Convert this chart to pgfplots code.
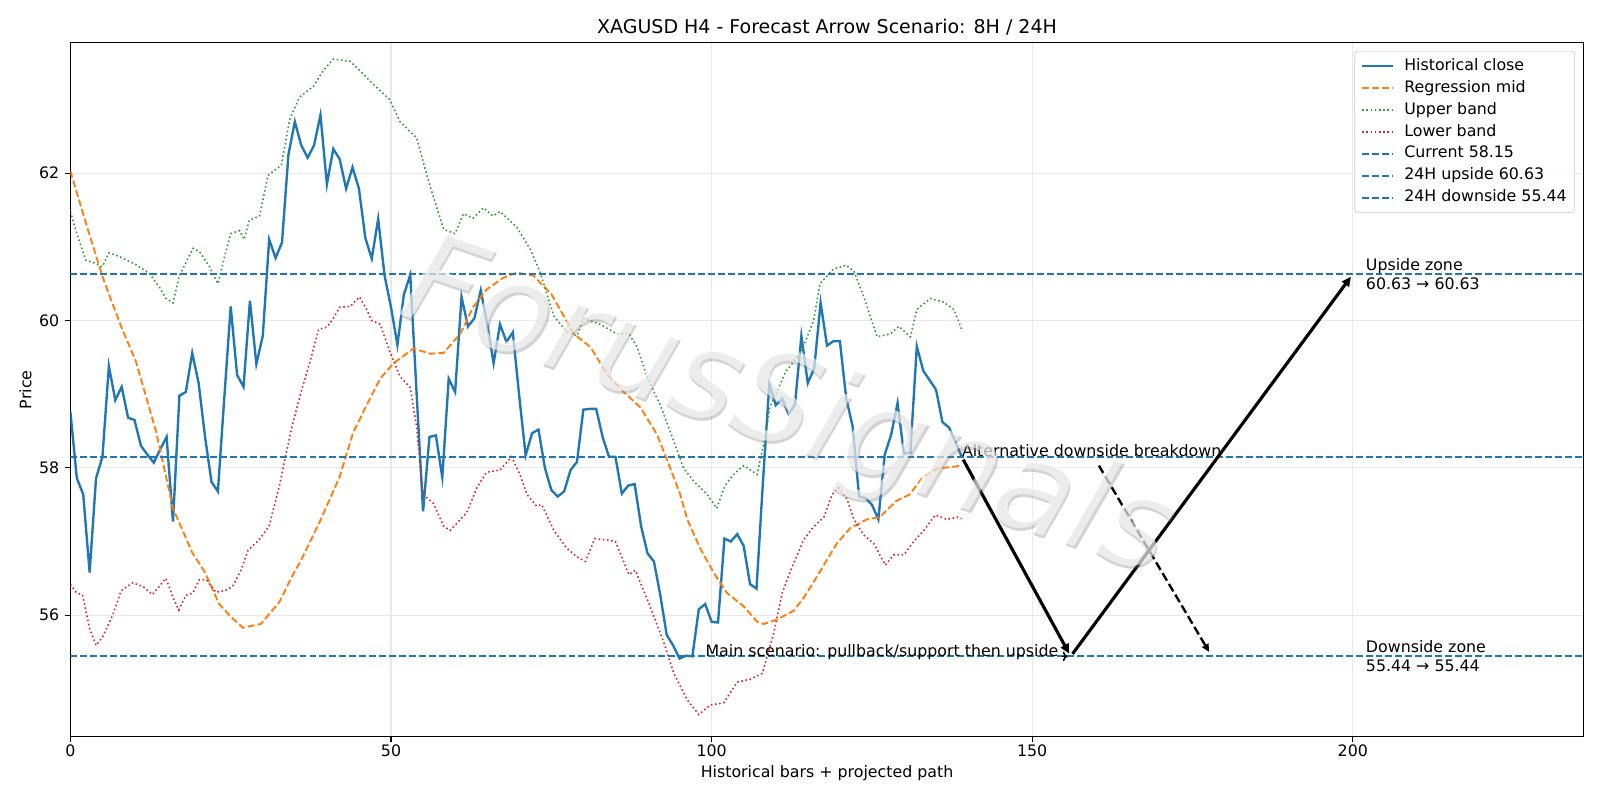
\documentclass[border=0pt]{standalone}
\usepackage{fontspec}
\setmainfont{DejaVu Sans}
\usepackage{pgfplots}
\pgfplotsset{compat=1.18}
\usetikzlibrary{arrows.meta}
\definecolor{c0}{HTML}{1F77B4}
\definecolor{c1}{HTML}{FF7F0E}
\definecolor{c2}{HTML}{2CA02C}
\definecolor{c3}{HTML}{D62728}
\begin{document}
\begin{tikzpicture}[font=\fontsize{10}{12}\selectfont]
\useasboundingbox (0,0) rectangle (14in,7in);
\begin{axis}[
  at={(0.616in,0.554in)}, anchor=south west,
  scale only axis, width=13.241in, height=6.071in,
  xmin=0, xmax=236, ymin=54.35, ymax=63.77,
  xtick={0,50,100,150,200}, ytick={56,58,60,62},
  tick align=outside, xtick pos=lower, ytick pos=left,
  major tick length=3.5pt,
  tick style={line width=0.8pt, black},
  axis line style={line width=0.8pt},
  grid=major, major grid style={line width=0.8pt, color=black!9},
  /pgf/number format/assume math mode=true,
  ticklabel style={font=\fontsize{10}{12}\selectfont},
  xticklabel style={yshift=2pt},
  title={XAGUSD H4 - Forecast Arrow Scenario: 8H / 24H},
  title style={font=\fontsize{12}{14}\selectfont, at={(axis description cs:0.5,1)}, anchor=base, yshift=0pt},
  xlabel={Historical bars + projected path},
  xlabel style={at={(axis description cs:0.5,0)}, anchor=center, yshift=-0.315in},
  ylabel={Price},
  ylabel style={at={(axis description cs:0,0.5)}, anchor=center, yshift=0.394in},
  legend style={at={(rel axis cs:1,1)}, anchor=north east, xshift=-5.5pt, yshift=-5pt,
    draw=black!20, rounded corners=2pt, fill=white, fill opacity=0.8, text opacity=1,
    font=\fontsize{10}{12}\selectfont, row sep=2.1pt, inner xsep=4pt, inner ysep=3.5pt,
    nodes={inner sep=1pt, text height=7.5pt, text depth=2.3pt}},
  legend cell align=left,
  legend image code/.code={\draw[#1] (0cm,0cm) -- (0.69cm,0cm); \path[draw=none] (0cm,0cm) -- (0.69cm+6pt,0cm);},
]
\addplot[c0, line width=1.5pt] coordinates {
(0,58.76) (1,57.86) (2,57.64) (3,56.58) (4,57.86) (5,58.15) (6,59.38) (7,58.92) (8,59.10) (9,58.68)
(10,58.65) (11,58.30) (12,58.18) (13,58.07) (14,58.25) (15,58.42) (16,57.27) (17,58.98) (18,59.03) (19,59.56)
(20,59.15) (21,58.42) (22,57.81) (23,57.68) (24,58.95) (25,60.19) (26,59.26) (27,59.10) (28,60.27) (29,59.41)
(30,59.79) (31,61.10) (32,60.85) (33,61.06) (34,62.25) (35,62.70) (36,62.38) (37,62.21) (38,62.38) (39,62.79)
(40,61.85) (41,62.33) (42,62.19) (43,61.79) (44,62.08) (45,61.79) (46,61.12) (47,60.84) (48,61.38) (49,60.61)
(50,60.18) (51,59.67) (52,60.35) (53,60.62) (54,59.00) (55,57.41) (56,58.42) (57,58.44) (58,57.87) (59,59.21)
(60,59.03) (61,60.32) (62,59.92) (63,60.03) (64,60.41) (65,59.95) (66,59.42) (67,59.95) (68,59.71) (69,59.84)
(70,58.97) (71,58.17) (72,58.47) (73,58.52) (74,58.00) (75,57.70) (76,57.61) (77,57.68) (78,57.97) (79,58.08)
(80,58.79) (81,58.80) (82,58.80) (83,58.42) (84,58.15) (85,58.15) (86,57.65) (87,57.76) (88,57.78) (89,57.21)
(90,56.84) (91,56.73) (92,56.27) (93,55.73) (94,55.59) (95,55.41) (96,55.45) (97,55.44) (98,56.08) (99,56.15)
(100,55.91) (101,55.90) (102,57.04) (103,57.00) (104,57.10) (105,56.94) (106,56.42) (107,56.36) (108,57.80) (109,59.14)
(110,58.85) (111,58.94) (112,58.73) (113,58.86) (114,59.79) (115,59.15) (116,59.35) (117,60.24) (118,59.66) (119,59.72)
(120,59.72) (121,58.94) (122,58.56) (123,57.61) (124,57.59) (125,57.50) (126,57.30) (127,58.18) (128,58.45) (129,58.88)
(130,58.19) (131,58.21) (132,59.65) (133,59.32) (134,59.19) (135,59.06) (136,58.62) (137,58.55) (138,58.36) (139,58.15)
};
\addlegendentry{Historical close}

\addplot[c1, line width=1.2pt, dash pattern=on 4.4pt off 1.9pt] coordinates {
(0,62.03) (2.5,61.3) (5,60.6) (6,60.36) (8,59.9) (10.2,59.45) (13.4,58.48) (16,57.45) (19,56.85) (21,56.58)
(23.2,56.15) (25,55.98) (26.9,55.83) (29.7,55.88) (32.6,56.18) (34.7,56.55) (36,56.75) (38.9,57.27) (42,57.88) (44.1,58.48)
(46.2,58.85) (48.3,59.21) (50.4,59.42) (53.5,59.62) (56.1,59.55) (58.2,59.56) (60.8,59.82) (62.8,60.18) (64.9,60.42) (67.5,60.58)
(69.6,60.65) (72.2,60.61) (75,60.36) (78.5,59.82) (81.1,59.64) (83.7,59.27) (86.3,59.03) (88.9,58.82) (91.5,58.45) (93,58.12)
(95.1,57.64) (96.2,57.30) (98.2,56.91) (100.3,56.58) (102.4,56.30) (105,56.12) (107.1,55.91) (108.1,55.88) (110.2,55.94) (112.8,56.06)
(114.4,56.24) (116.4,56.52) (119.5,56.97) (121.6,57.18) (124.2,57.30) (126.2,57.33) (128.8,57.55) (130.9,57.64) (133,57.88) (135.2,57.99)
(137.2,58.01) (139,58.03)
};
\addlegendentry{Regression mid}

\addplot[c2, line width=1pt, dash pattern=on 1pt off 1.65pt] coordinates {
(0,61.48) (0.9,61.21) (2.4,60.82) (3.5,60.79) (5,60.73) (6,60.92) (7.6,60.87) (10.2,60.76) (12.3,60.64) (13.9,60.45)
(14.9,60.30) (16,60.24) (17,60.61) (19.1,60.98) (20.1,60.94) (21.7,60.73) (23,60.50) (24,60.85) (25,61.18) (26.4,61.22)
(27.1,61.10) (27.9,61.36) (29.5,61.42) (30.8,61.97) (32.9,62.11) (34.2,62.73) (35.7,63.03) (37.9,63.18) (39.4,63.39) (41,63.55)
(43.6,63.52) (45.2,63.39) (47.2,63.21) (49.8,63.0) (51.4,62.70) (54,62.48) (56.1,61.82) (58.2,61.24) (60,61.18) (61.3,61.45)
(62.8,61.39) (64.4,61.53) (65.9,61.42) (67,61.48) (69.6,61.27) (71.7,60.97) (73.2,60.67) (75.4,60.06) (77.4,59.85) (79,59.79)
(80,60.03) (82.6,59.95) (85.2,59.82) (87.1,59.82) (88.4,59.64) (89.9,59.24) (92,58.85) (93.6,58.48) (95.6,58.00) (97.2,57.82)
(99.3,57.64) (100.8,57.45) (102.1,57.76) (103.4,57.91) (105,58.03) (107.1,57.91) (108.3,58.4) (109.1,58.83) (110.2,59.03) (111.5,59.3)
(112.8,59.44) (114.1,59.6) (115.9,60.0) (116.9,60.5) (119,60.70) (121,60.75) (122.2,60.67) (123.7,60.33) (125.8,59.78) (127.9,59.82)
(129.2,59.92) (131,59.78) (132,60.15) (134.1,60.30) (136.2,60.25) (137.8,60.15) (139,59.88)
};
\addlegendentry{Upper band}

\addplot[c3, line width=1pt, dash pattern=on 1pt off 1.65pt] coordinates {
(0,56.42) (0.9,56.31) (1.9,56.27) (3,55.82) (4,55.59) (5,55.70) (6.6,56.0) (7.9,56.33) (9.7,56.44) (11.3,56.39)
(12.8,56.28) (14.9,56.50) (16,56.24) (16.9,56.07) (18,56.27) (19.1,56.30) (20.1,56.48) (21.2,56.48) (22.7,56.31) (24.3,56.34)
(25.3,56.39) (26.6,56.61) (27.7,56.88) (29.5,57.03) (31,57.21) (32.6,57.76) (33.6,58.18) (34.7,58.61) (36.2,59.1) (37.4,59.45)
(38.7,59.88) (40,59.91) (41,60.03) (42,60.18) (43.6,60.19) (45.1,60.32) (46.2,60.15) (47,60.0) (48.3,59.95) (49.8,59.58)
(51.4,59.24) (53,59.09) (54,58.55) (55,57.64) (56.6,57.52) (58.2,57.21) (59.2,57.15) (60.2,57.24) (61.8,57.39) (63.4,57.73)
(64.9,57.94) (67,57.97) (68.8,58.15) (70.1,57.91) (71.2,57.64) (72.7,57.48) (73.5,57.5) (75.4,57.15) (77.4,56.91) (79,56.79)
(80.3,56.73) (81.8,57.04) (83.7,57.02) (85,57.0) (87.1,56.55) (88.1,56.61) (90.4,56.12) (92.5,55.64) (94.1,55.21) (96.2,54.85)
(98,54.65) (99.8,54.78) (101.9,54.81) (104,55.09) (106,55.13) (107.9,55.21) (109.7,55.76) (111,56.3) (112.3,56.6) (114.4,57.03)
(115.9,57.2) (117.5,57.33) (118.8,57.64) (119.8,57.73) (121.1,57.58) (122.2,57.30) (123.7,57.09) (125.3,56.97) (127.1,56.68) (128.4,56.82)
(130,56.82) (131.5,57.0) (133.1,57.15) (134.9,57.36) (136.7,57.30) (138.3,57.33) (139,57.31)
};
\addlegendentry{Lower band}

\addplot[c0, line width=1.2pt, dash pattern=on 4.4pt off 1.9pt] coordinates {(0,58.15) (236,58.15)};
\addlegendentry{Current 58.15}
\addplot[c0, line width=1.2pt, dash pattern=on 4.4pt off 1.9pt] coordinates {(0,60.63) (236,60.63)};
\addlegendentry{24H upside 60.63}
\addplot[c0, line width=1.2pt, dash pattern=on 4.4pt off 1.9pt] coordinates {(0,55.44) (236,55.44)};
\addlegendentry{24H downside 55.44}

% scenario arrows
\addplot[forget plot, black, line width=2pt, -{Triangle[length=6pt,width=5.5pt]}, shorten <=2pt, shorten >=2pt] coordinates {(139,58.15) (156,55.44)};
\addplot[forget plot, black, line width=2pt, -{Triangle[length=6pt,width=5.5pt]}, shorten <=2pt, shorten >=2pt] coordinates {(156,55.44) (200,60.63)};
\addplot[forget plot, black, line width=1.5pt, dash pattern=on 5.5pt off 2.4pt, -{Triangle[length=5pt,width=4.5pt]}] coordinates {(160.4,58.03) (177.6,55.5)};
\addplot[forget plot, black, line width=1pt, -{To[length=3pt,width=6pt]}, shorten >=2pt] coordinates {(154.6,55.44) (156,55.44)};

\node[anchor=base west, inner sep=0pt] at (axis cs:139,58.15) {Alternative downside breakdown};
\node[anchor=base west, inner sep=0pt] at (axis cs:99,55.44) {Main scenario: pullback/support then upside};
\node[anchor=west, inner sep=0pt, align=left] at (axis cs:202,60.63) {Upside zone\\60.63 → 60.63};
\node[anchor=west, inner sep=0pt, align=left] at (axis cs:202,55.44) {Downside zone\\55.44 → 55.44};

% watermark
\node[rotate=-19, text=gray, opacity=0.35, font=\fontsize{80}{80}\selectfont\itshape, xshift=-0.27in+1.5pt, yshift=-0.29in-1.5pt] at (rel axis cs:0.5,0.5) {ForusSignals};
\node[rotate=-19, text=white, opacity=0.6, font=\fontsize{80}{80}\selectfont\itshape, xshift=-0.27in, yshift=-0.29in] at (rel axis cs:0.5,0.5) {ForusSignals};
\end{axis}
\end{tikzpicture}
\end{document}
